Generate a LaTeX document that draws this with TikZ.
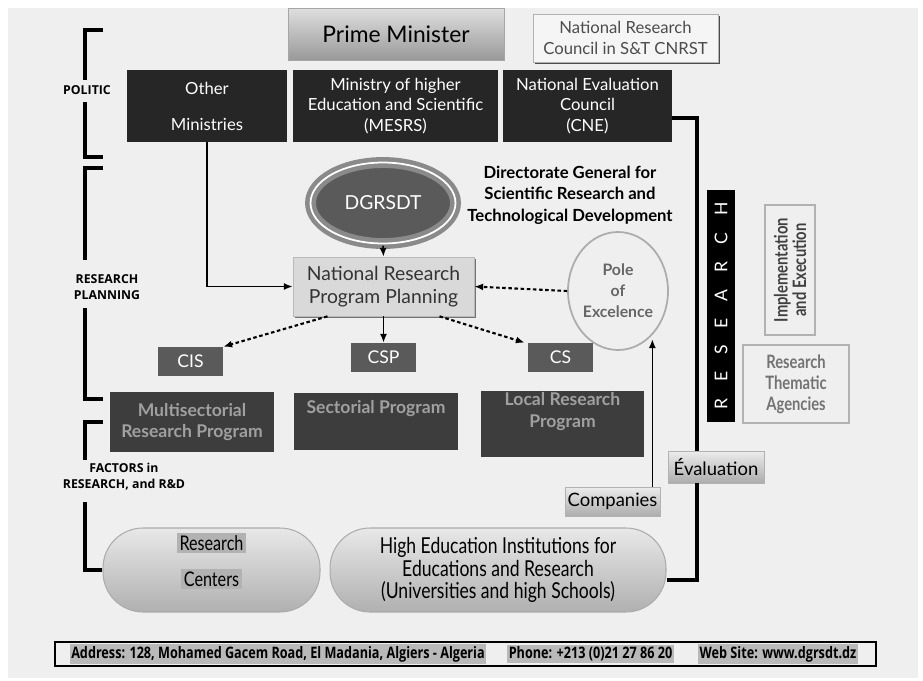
\documentclass[tikz,border=0pt]{standalone}
\usepackage{fontspec}
\setmainfont{Lato}
\newfontfamily\labf{Open Sans}
\newfontfamily\condf[FakeStretch=0.8]{Lato}
\newfontfamily\addrf[FakeStretch=0.8]{Open Sans}
\usetikzlibrary{shapes.geometric,shadows,arrows.meta,calc}
\definecolor{bgc}{HTML}{EFEFEF}
\definecolor{blackbox}{HTML}{262626}
\definecolor{midgray}{HTML}{5A5A5A}
\definecolor{progfill}{HTML}{3D3D3D}
\definecolor{progtext}{HTML}{A0A0A0}
\definecolor{ringgray}{HTML}{8A8A8A}
\begin{document}
\begin{tikzpicture}[x=0.02cm,y=-0.02cm,
  blkbox/.style={rectangle, fill=blackbox, text=white, align=center, minimum height=1.44cm, inner sep=1pt,
    font=\fontsize{9.5}{11.5}\selectfont},
  smallbox/.style={rectangle, fill=midgray, text=white, minimum width=1.3cm, minimum height=0.58cm, inner sep=0pt,
    font=\fontsize{10}{12}\selectfont},
  progbox/.style={rectangle, fill=progfill, text=progtext, align=center, inner sep=1pt,
    font=\bfseries\fontsize{10}{12}\selectfont},
  gradbox/.style={rectangle, top color=gray!15, bottom color=gray!65, draw=gray!60, inner sep=0pt,
    font=\fontsize{10.5}{12}\selectfont},
  capsule/.style={rectangle, rounded corners=0.8cm, top color=gray!18, bottom color=gray!62, draw=gray!65, line width=0.6pt,
    minimum height=1.68cm, align=center},
  bracket/.style={line width=2pt, black},
  blabel/.style={font=\labf\bfseries\fontsize{7}{9}\selectfont, align=center},
  addrtxt/.style={fill=gray!55, inner sep=1pt, font=\addrf\bfseries\fontsize{9}{10}\selectfont},
  conn/.style={line width=0.9pt, -{Latex[length=5pt,width=4pt]}},
  dotconn/.style={line width=1.2pt, dash pattern=on 2pt off 1.5pt, -{Latex[length=5pt,width=4pt]}},
  thickconn/.style={line width=1.8pt}
]
\useasboundingbox (0,0) rectangle (923,680);
\fill[white] (0,0) rectangle (923,680);
\fill[bgc] (8,8) rectangle (918,678);

% top
\node[rectangle, top color=gray!25, bottom color=gray!80, draw=gray!70, minimum width=4.32cm, minimum height=1.04cm,
  font=\fontsize{13}{15}\selectfont] (pm) at (396,34) {Prime Minister};
\node[rectangle, fill=gray!8, draw=gray!60, minimum width=3.7cm, minimum height=0.96cm, align=center, text=black!70,
  drop shadow={shadow xshift=1.2pt, shadow yshift=-1.2pt, fill=black!70, opacity=1},
  font=\fontsize{9.5}{11.5}\selectfont] (cnrst) at (625.5,38) {National Research\\Council in S\&T CNRST};

\node[blkbox, minimum width=3.2cm] (om) at (207,106) {Other\\[9pt]Ministries};
\node[blkbox, minimum width=4.1cm] (mesrs) at (395.5,106) {Ministry of higher\\Education and Scientific\\(MESRS)};
\node[blkbox, minimum width=3.38cm] (cne) at (587.5,106) {National Evaluation\\Council\\(CNE)};

% DGRSDT
\node[ellipse, fill=midgray, draw=ringgray, line width=2.6pt, double=white, double distance=1pt,
  minimum width=2.9cm, minimum height=1.62cm, text=white, font=\fontsize{11}{13}\selectfont] (dg) at (383,203) {DGRSDT};
\node[align=center, font=\bfseries\fontsize{9.5}{12.2}\selectfont] (dgtxt) at (570,195)
  {Directorate General for\\Scientific Research and\\Technological Development};

% NRPP
\node[rectangle, fill=gray!30, draw=gray!55, minimum width=3.62cm, minimum height=1.18cm, align=center, text=black!80,
  drop shadow={shadow xshift=1pt, shadow yshift=-1pt, fill=black!55, opacity=1},
  font=\fontsize{11}{13}\selectfont] (nrpp) at (383.5,286.5) {National Research\\Program Planning};

\node[ellipse, draw=gray!65, line width=1pt, minimum width=2.0cm, minimum height=2.36cm, align=center, inner sep=0pt,
  text=black!60, font=\bfseries\fontsize{9}{12}\selectfont] (pole) at (618,291) {Pole\\of\\Excelence};

\node[smallbox] (cis) at (190.5,361.5) {CIS};
\node[smallbox] (csp) at (383.5,357.5) {CSP};
\node[smallbox] (cs) at (560.5,357.5) {CS};

\node[progbox, minimum width=3.28cm, minimum height=1.2cm] (msp) at (192,422) {Multisectorial\\Research Program};
\node[progbox, minimum width=3.28cm, minimum height=1.14cm] (sp) at (376,421.5) {};
\node[progbox, fill=none, anchor=north] (sptxt) at ([yshift=-0.12cm]sp.north) {Sectorial Program};
\node[progbox, minimum width=3.26cm, minimum height=1.28cm] (lrp) at (562.5,424) {Local Research\\Program\\[4pt]};

\node[gradbox, minimum width=1.9cm, minimum height=0.58cm] (comp) at (612.5,501.5) {Companies};
\node[gradbox, minimum width=1.92cm, minimum height=0.64cm] (ev) at (716,467) {Évaluation};

% right column
\node[rectangle, fill=black, minimum width=0.56cm, minimum height=4.64cm, inner sep=0pt] (rbar) at (721,306) {};
\node[rotate=90, text=white, font=\fontsize{10}{12}\selectfont] (rtxt) at (rbar.center)
  {\makebox[4.15cm]{R\hfill E\hfill S\hfill E\hfill A\hfill R\hfill C\hfill H}};
\node[rectangle, draw=gray!60, line width=0.8pt, minimum width=1.0cm, minimum height=2.6cm, inner sep=0pt] (impl) at (790,270) {};
\node[rotate=90, align=center, text=black!75, font=\condf\bfseries\fontsize{10.5}{10.5}\selectfont] (impltxt) at (impl.center)
  {Implementation\\and Execution};
\node[rectangle, draw=gray!60, line width=0.8pt, minimum width=2.12cm, minimum height=1.56cm, align=center, text=black!55,
  font=\condf\bfseries\fontsize{10.5}{12}\selectfont] (rta) at (796,384) {Research\\Thematic\\Agencies};

% bottom capsules
\node[capsule, minimum width=4.34cm] (rc) at (211.5,570) {};
\node[fill=gray!60, inner sep=1.5pt, font=\condf\fontsize{11.5}{13}\selectfont] (rct1) at (211.5,543) {Research};
\node[fill=gray!60, inner sep=1.5pt, font=\condf\fontsize{11.5}{13}\selectfont] (rct2) at (211.5,579) {Centers};
\node[capsule, minimum width=6.72cm, font=\condf\fontsize{12.5}{12.6}\selectfont] (he) at (498,570)
  {High Education Institutions for\\Educations and Research\\(Universities and high Schools)};

% address
\node[rectangle, draw=black, line width=0.8pt, minimum width=16.42cm, minimum height=0.48cm] (addr) at (465.5,654) {};
\node[addrtxt] (a1) at (278,654) {Address: 128, Mohamed Gacem Road, El Madania, Algiers - Algeria};
\node[addrtxt] (a2) at (590.5,654) {Phone: +213 (0)21 27 86 20};
\node[addrtxt] (a3) at (778,654) {Web Site: www.dgrsdt.dz};

% brackets
\node[blabel] (lpol) at (87,90) {POLITIC};
\node[blabel] (lrpl) at (107,287) {RESEARCH\\PLANNING};
\node[blabel] (lfac) at (124,477) {FACTORS in\\RESEARCH, and R\&D};
\draw[bracket] (103,30) -- (85,30) -- (85,80);
\draw[bracket] (85,102) -- (85,157) -- (103,157);
\draw[bracket] (103,168) -- (85,168) -- (85,260);
\draw[bracket] (85,308) -- (85,399) -- (103,399);
\draw[bracket] (103,422) -- (85,422) -- (85,460);
\draw[bracket] (85,502) |- (rc.west);

% connectors
\draw[conn] (om.south) |- (nrpp.west);
\draw[conn] (dg.south) -- (nrpp.north);
\draw[dotconn] (pole.west) -- (nrpp.east);
\draw[dotconn] ([xshift=-1.12cm]nrpp.south) -- (cis.north east);
\draw[conn] (nrpp.south) -- (csp.north);
\draw[dotconn] ([xshift=1.12cm]nrpp.south) -- ([xshift=-0.06cm]cs.north west);
\coordinate (cup) at ([xshift=-0.16cm]comp.north east);
\draw[conn] (cup) -- (cup |- pole.-58);
\coordinate (evtop) at ([xshift=-0.38cm]ev.north);
\coordinate (evbot) at ([xshift=-0.38cm]ev.south);
\draw[thickconn] ([yshift=-0.24cm]cne.east) -| (evtop);
\draw[thickconn] (evbot) |- ([yshift=-0.2cm]he.east);
\end{tikzpicture}
\end{document}
